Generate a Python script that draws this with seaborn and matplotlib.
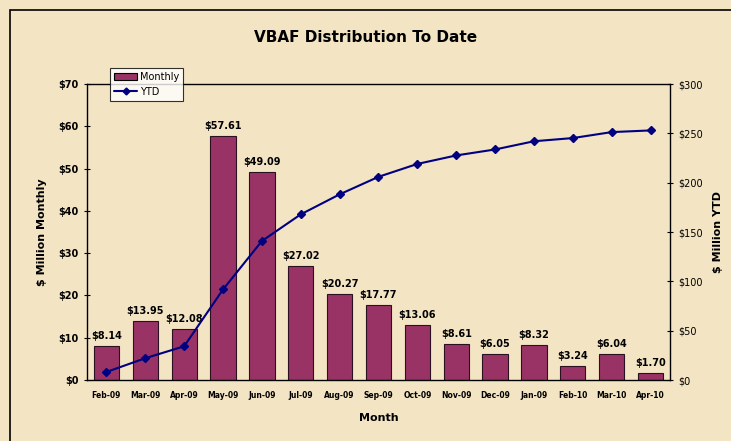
import numpy as np
import pandas as pd
import matplotlib
matplotlib.use("Agg")
import matplotlib.pyplot as plt
from matplotlib.patches import Rectangle, Patch
from matplotlib.lines import Line2D
import seaborn as sns

# datos
months = ["Feb-09", "Mar-09", "Apr-09", "May-09", "Jun-09", "Jul-09", "Aug-09", "Sep-09",
          "Oct-09", "Nov-09", "Dec-09", "Jan-09", "Feb-10", "Mar-10", "Apr-10"]
monthly = [8.14, 13.95, 12.08, 57.61, 49.09, 27.02, 20.27, 17.77, 13.06, 8.61, 6.05, 8.32, 3.24, 6.04, 1.70]
ytd = [8.14, 22.09, 34.17, 91.78, 140.87, 167.89, 188.16, 205.93, 218.99, 227.60, 233.65, 241.97,
       245.21, 251.25, 252.95]
left_ticks = [0, 10, 20, 30, 40, 50, 60, 70]
right_ticks = [0, 50, 100, 150, 200, 250, 300]

bg = "#F3E4C4"
bar_color = "#993366"
line_color = "#000080"

sns.set_style("white")
plt.rcParams["font.family"] = ["DejaVu Sans"]
plt.rcParams["text.color"] = "black"
plt.rcParams["axes.labelcolor"] = "black"
plt.rcParams["xtick.color"] = "black"
plt.rcParams["ytick.color"] = "black"

df = pd.DataFrame({"Month": months, "Monthly": monthly, "YTD": ytd})

fig = plt.figure(figsize=(7.31, 4.41), dpi=100, facecolor=bg)
fig.patches.append(Rectangle((10 / 731, -0.1), 1.2, 1 - 10 / 441 + 0.1, transform=fig.transFigure,
                             fill=False, edgecolor="black", linewidth=1.2))
ax = fig.add_axes([87 / 731, 1 - 380 / 441, (670 - 87) / 731, (380 - 84) / 441])
ax.set_facecolor("none")

sns.barplot(data=df, x="Month", y="Monthly", ax=ax, color=bar_color, saturation=1,
            width=0.65, edgecolor="#2a1020", linewidth=0.8)
for i, v in enumerate(monthly):
    ax.text(i, v + 1.2, "$%.2f" % v, ha="center", va="bottom", fontsize=7, fontweight="bold")

ax2 = ax.twinx()
ax2.plot(np.arange(len(months)), df["YTD"], color=line_color, marker="D", markersize=4.5, linewidth=1.5)

ax.set_xlim(-0.5, len(months) - 0.5)
ax2.set_xlim(-0.5, len(months) - 0.5)
ax.set_ylim(0, 70)
ax2.set_ylim(0, 300)
ax.set_yticks(left_ticks)
ax.set_yticklabels(["$%d" % t for t in left_ticks], fontsize=7, fontweight="bold")
ax2.set_yticks(right_ticks)
ax2.set_yticklabels(["$%d" % t for t in right_ticks], fontsize=7)
ax.set_xticks(np.arange(len(months)))
ax.set_xticklabels(months, fontsize=5.5, fontweight="bold")
ax.set_xticks(np.arange(len(months) + 1) - 0.5, minor=True)
ax.tick_params(axis="x", which="major", length=0, pad=8)
ax.tick_params(axis="x", which="minor", direction="inout", length=5, width=0.8)
ax.tick_params(axis="y", direction="inout", length=5, width=0.8)
ax2.tick_params(axis="y", direction="inout", length=5, width=0.8)

for a in (ax, ax2):
    for s in a.spines.values():
        s.set_visible(False)
ax.spines["left"].set_visible(True)
ax.spines["bottom"].set_visible(True)
ax2.spines["right"].set_visible(True)
ax2.spines["top"].set_visible(True)
for s in list(ax.spines.values()) + list(ax2.spines.values()):
    s.set_color("black")
    s.set_linewidth(1.0)

ax.set_xlabel("Month", fontsize=8, fontweight="bold", labelpad=9)
ax.set_ylabel("$ Million Monthly", fontsize=8, fontweight="bold", labelpad=8)
ax2.set_ylabel("$ Million YTD", fontsize=8, fontweight="bold", labelpad=7)
fig.text(0.5, 1 - 38 / 441, "VBAF Distribution To Date", ha="center", va="center",
         fontsize=11, fontweight="bold")

handles = [Patch(facecolor=bar_color, edgecolor="black", linewidth=0.8),
           Line2D([0], [0], color=line_color, marker="D", markersize=3.5, linewidth=1.5)]
leg = fig.legend(handles, ["Monthly", "YTD"], loc="upper left", bbox_to_anchor=(110 / 731, 1 - 68 / 441),
                 fontsize=7, frameon=True, fancybox=False, handlelength=2.4, borderpad=0.4,
                 labelspacing=0.5, handletextpad=0.3, borderaxespad=0)
leg.get_frame().set_edgecolor("black")
leg.get_frame().set_facecolor("white")
leg.get_frame().set_linewidth(0.8)

fig.savefig("out.png", dpi=100, facecolor=bg)
